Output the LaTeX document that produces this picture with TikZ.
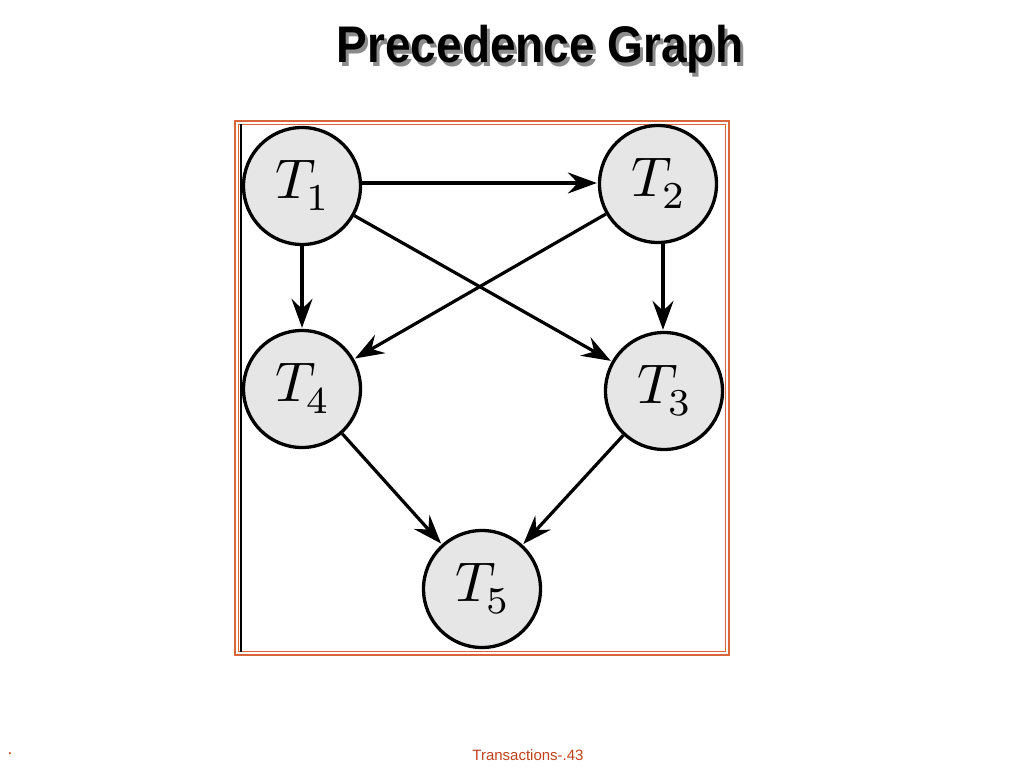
\documentclass[tikz,border=0pt]{standalone}
\usepackage{fontspec}
\setmainfont{Liberation Sans}
\newfontfamily\lmfont{lmroman7-regular}[Extension=.otf]
\newfontfamily\lmmath{Latin Modern Math}
\usepackage{graphicx}
\usetikzlibrary{arrows.meta}
\definecolor{boxorange}{HTML}{D9653B}
\definecolor{footred}{HTML}{C0401A}
\definecolor{nodegray}{HTML}{E6E6E6}
\newcommand{\tlabel}[1]{{\fontsize{56}{60}\selectfont\lmmath 𝑇}\kern-2pt\raisebox{-12pt}{\fontsize{38}{42}\selectfont\lmfont #1}}
\tikzset{
  tnode/.style={circle, draw=black, line width=3.3pt, fill=nodegray, minimum size=117pt, inner sep=0pt},
  edge/.style={line width=3.2pt, -{Stealth[length=29pt,width=21pt,inset=10pt]}, shorten >=1pt},
  titlefont/.style={font=\fontsize{46}{52}\selectfont\bfseries}
}
\begin{document}
\begin{tikzpicture}[x=1pt,y=-1pt]
\useasboundingbox (0,0) rectangle (1024,768);
% title
\node[titlefont, text=black] (title) at (540,51) {\scalebox{1}[1.12]{\rlap{\kern3pt\raisebox{-3pt}{\color{black!45}Precedence Graph}}Precedence Graph}};
% frame
\draw[boxorange, line width=2pt] (235,121) rectangle (729,655);
\draw[boxorange, line width=0.8pt] (238.5,124.5) rectangle (725.5,651.5);
\draw[black, line width=2pt] (240.5,124) -- (240.5,652);
% nodes
\node[tnode] (T1) at (302,186) {\tlabel{1}};
\node[tnode] (T2) at (658,184) {\tlabel{2}};
\node[tnode] (T4) at (302,389) {\tlabel{4}};
\node[tnode] (T3) at (664,391) {\tlabel{3}};
\node[tnode] (T5) at (482,589) {\tlabel{5}};
% edges
\draw[edge] (T1.east |- 0,183) -- (T2.west |- 0,183);
\draw[edge] (T1) -- (T4);
\draw[edge] (663,244) -- (T3.north -| 663,0);
\draw[edge] (T1) -- (T3);
\draw[edge] (T2) -- (T4);
\draw[edge] (T4) -- (T5);
\draw[edge] (T3) -- (T5);
% footer
\node[text=footred, font=\fontsize{15}{18}\selectfont] (footer) at (528,755) {Transactions-.43};
\node[text=footred, font=\fontsize{12}{14}\selectfont\bfseries] (dot) at (10,754) {.};
\end{tikzpicture}
\end{document}
